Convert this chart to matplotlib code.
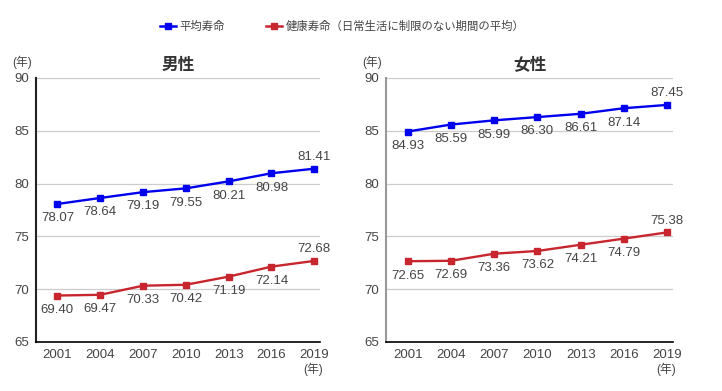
import matplotlib.pyplot as plt
from matplotlib.lines import Line2D

plt.rcParams['font.family'] = ['Liberation Sans', 'Noto Sans CJK JP', 'DejaVu Sans']

years = [2001, 2004, 2007, 2010, 2013, 2016, 2019]
male_life = [78.07, 78.64, 79.19, 79.55, 80.21, 80.98, 81.41]
male_healthy = [69.40, 69.47, 70.33, 70.42, 71.19, 72.14, 72.68]
female_life = [84.93, 85.59, 85.99, 86.30, 86.61, 87.14, 87.45]
female_healthy = [72.65, 72.69, 73.36, 73.62, 74.21, 74.79, 75.38]

blue = '#0000ee'
red = '#c8262e'
txt = '#444444'

fig = plt.figure(figsize=(7.22, 3.91), dpi=100)
ax1 = fig.add_axes([36 / 722, 1 - 342 / 391, 284 / 722, 264 / 391])
ax2 = fig.add_axes([386 / 722, 1 - 342 / 391, 287 / 722, 264 / 391])


def draw(ax, life, healthy, title, spine_col):
    ax.plot(years, life, color=blue, marker='s', markersize=5, lw=1.7)
    ax.plot(years, healthy, color=red, marker='s', markersize=5, lw=1.7)
    for series in (life, healthy):
        for i, (x, y) in enumerate(zip(years, series)):
            if i == len(years) - 1:
                ax.annotate(f'{y:.2f}', (x, y), xytext=(0, 4), textcoords='offset points',
                            ha='center', va='bottom', fontsize=9.5, color=txt)
            else:
                ax.annotate(f'{y:.2f}', (x, y), xytext=(0, -6), textcoords='offset points',
                            ha='center', va='top', fontsize=9.5, color=txt)
    ax.set_xlim(1999.5, 2019.4)
    ax.set_ylim(65, 90)
    ax.set_xticks(years)
    ax.set_yticks([65, 70, 75, 80, 85, 90])
    ax.grid(axis='y', color='#cccccc', lw=0.9)
    ax.set_axisbelow(True)
    for s in ['top', 'right']:
        ax.spines[s].set_visible(False)
    ax.spines['bottom'].set_color('black')
    ax.spines['bottom'].set_linewidth(1.2)
    ax.spines['left'].set_color(spine_col)
    ax.spines['left'].set_linewidth(1.5)
    ax.tick_params(length=0, labelsize=9.5, labelcolor=txt, pad=5)
    ax.set_title(title, fontsize=12, fontweight='bold', color='#333333', pad=6)
    ax.text(-0.05, 1.035, '(年)', transform=ax.transAxes, fontsize=8.5, color=txt,
            ha='center', va='bottom')
    ax.text(0.975, -0.08, '(年)', transform=ax.transAxes, fontsize=8.5, color=txt,
            ha='center', va='top')


draw(ax1, male_life, male_healthy, '男性', '#222222')
draw(ax2, female_life, female_healthy, '女性', '#999999')

handles = [Line2D([0], [0], color=blue, marker='s', markersize=4, lw=1.8),
           Line2D([0], [0], color=red, marker='s', markersize=4, lw=1.8)]
fig.legend(handles, ['平均寿命', '健康寿命（日常生活に制限のない期間の平均）'],
           loc='center', bbox_to_anchor=(0.474, 0.932), ncol=2, frameon=False,
           fontsize=8.2, handlelength=1.4, handletextpad=0.3, columnspacing=3.6,
           labelcolor=txt)

fig.savefig('out.png', dpi=100, facecolor='white')
